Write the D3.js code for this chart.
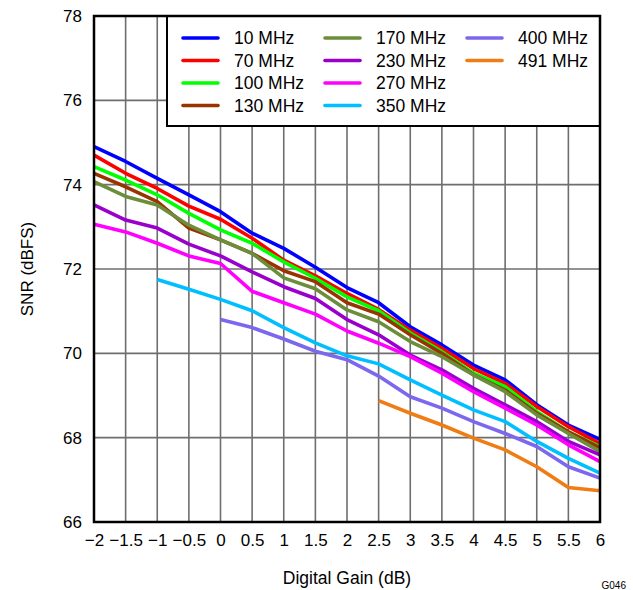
<!DOCTYPE html>
<html>
<head>
<meta charset="utf-8">
<script src="https://cdn.jsdelivr.net/npm/d3@7"></script>
<style>
  html, body { margin: 0; padding: 0; background: #fff; }
  svg { display: block; font-family: "Liberation Sans", Arial, sans-serif; }
</style>
</head>
<body>
<svg id="chart" width="633" height="590"></svg>
<script>
const gains = [-2, -1.5, -1, -0.5, 0, 0.5, 1, 1.5, 2, 2.5, 3, 3.5, 4, 4.5, 5, 5.5, 6];
const xTickLabels = ["−2", "−1.5", "−1", "−0.5", "0", "0.5", "1", "1.5", "2", "2.5", "3", "3.5", "4", "4.5", "5", "5.5", "6"];
const yTicks = [66, 68, 70, 72, 74, 76, 78];

const seriesNames = ["10 MHz", "70 MHz", "100 MHz", "130 MHz", "170 MHz", "230 MHz", "270 MHz", "350 MHz", "400 MHz", "491 MHz"];
const seriesColors = ["#0000ff", "#ff0000", "#00ff00", "#993300", "#6b8e3a", "#9900cc", "#ff00ff", "#00bfff", "#7b68ee", "#f07c14"];

const snr10  = [74.90, 74.55, 74.15, 73.76, 73.36, 72.85, 72.49, 72.04, 71.56, 71.20, 70.63, 70.20, 69.72, 69.37, 68.78, 68.30, 67.96];
const snr70  = [74.70, 74.27, 73.91, 73.49, 73.18, 72.73, 72.21, 71.84, 71.42, 71.04, 70.55, 70.12, 69.64, 69.29, 68.74, 68.26, 67.86];
const snr100 = [74.43, 74.11, 73.76, 73.32, 72.93, 72.61, 72.17, 71.78, 71.34, 71.01, 70.48, 70.04, 69.53, 69.21, 68.62, 68.14, 67.79];
const snr130 = [74.27, 73.95, 73.60, 72.97, 72.69, 72.37, 71.96, 71.70, 71.20, 70.93, 70.44, 70.00, 69.49, 69.13, 68.58, 68.14, 67.76];
const snr170 = [74.07, 73.72, 73.52, 73.04, 72.69, 72.37, 71.79, 71.53, 71.03, 70.75, 70.28, 69.92, 69.49, 69.09, 68.54, 68.10, 67.67];
const snr230 = [73.52, 73.16, 72.97, 72.59, 72.31, 71.93, 71.58, 71.30, 70.80, 70.44, 69.96, 69.61, 69.17, 68.78, 68.38, 67.91, 67.59];
const snr270 = [73.06, 72.88, 72.61, 72.31, 72.13, 71.47, 71.20, 70.93, 70.53, 70.24, 69.92, 69.53, 69.09, 68.70, 68.30, 67.83, 67.43];
const snr350 = [null, null, 71.75, 71.52, 71.28, 71.01, 70.61, 70.25, 69.94, 69.75, 69.37, 69.01, 68.66, 68.38, 67.91, 67.51, 67.16];
const snr400 = [null, null, null, null, 70.80, 70.61, 70.34, 70.05, 69.85, 69.46, 68.97, 68.70, 68.38, 68.10, 67.79, 67.31, 67.04];
const snr491 = [null, null, null, null, null, null, null, null, null, 68.88, 68.58, 68.30, 67.99, 67.71, 67.31, 66.82, 66.74];

const seriesValues = [snr10, snr70, snr100, snr130, snr170, snr230, snr270, snr350, snr400, snr491];

const svg = d3.select("#chart");
const pLeft = 94, pRight = 600, pTop = 16, pBottom = 522;

const x = d3.scaleLinear().domain([-2, 6]).range([pLeft, pRight]);
const y = d3.scaleLinear().domain([66, 78]).range([pBottom, pTop]);

// gridlines
const grid = svg.append("g");
grid.selectAll("line.v").data(gains).enter().append("line")
  .attr("x1", d => x(d)).attr("x2", d => x(d))
  .attr("y1", pTop).attr("y2", pBottom)
  .attr("stroke", "#6e6e6e").attr("stroke-width", 1.6);
grid.selectAll("line.h").data(yTicks).enter().append("line")
  .attr("x1", pLeft).attr("x2", pRight)
  .attr("y1", d => y(d)).attr("y2", d => y(d))
  .attr("stroke", "#6e6e6e").attr("stroke-width", 1.6);

// series lines
const line = d3.line()
  .defined(d => d[1] !== null)
  .x(d => x(d[0])).y(d => y(d[1]));

seriesValues.forEach((vals, i) => {
  svg.append("path")
    .datum(gains.map((g, j) => [g, vals[j]]))
    .attr("d", line)
    .attr("fill", "none")
    .attr("stroke", seriesColors[i])
    .attr("stroke-width", 3.6)
    .attr("stroke-linejoin", "round");
});

// axes (labels only, via d3 axes)
const xAxis = d3.axisBottom(x).tickValues(gains)
  .tickFormat((d, i) => xTickLabels[i]).tickSize(0).tickPadding(12);
const gx = svg.append("g").attr("transform", `translate(0,${pBottom})`).call(xAxis);
gx.select(".domain").remove();
gx.selectAll("text").attr("font-size", 17).attr("fill", "#000")
  .attr("font-family", "'Liberation Sans', Arial, sans-serif");

const yAxis = d3.axisLeft(y).tickValues(yTicks).tickFormat(d3.format("d"))
  .tickSize(0).tickPadding(12);
const gy = svg.append("g").attr("transform", `translate(${pLeft},0)`).call(yAxis);
gy.select(".domain").remove();
gy.selectAll("text").attr("font-size", 17).attr("fill", "#000")
  .attr("font-family", "'Liberation Sans', Arial, sans-serif");

// legend
const legend = svg.append("g");
legend.append("rect")
  .attr("x", 167).attr("y", pTop).attr("width", pRight - 167).attr("height", 110)
  .attr("fill", "#fff").attr("stroke", "#000").attr("stroke-width", 2);
const colX = [183, 325, 467];
const rowY = [38, 60.5, 83, 105.5];
seriesNames.forEach((name, i) => {
  const col = Math.floor(i / 4), row = i % 4;
  const lx = colX[col], ly = rowY[row];
  legend.append("line")
    .attr("x1", lx).attr("x2", lx + 35).attr("y1", ly).attr("y2", ly)
    .attr("stroke", seriesColors[i]).attr("stroke-width", 3.6)
    .attr("stroke-linecap", "round");
  legend.append("text")
    .attr("x", lx + 51).attr("y", ly).attr("dy", "0.36em")
    .attr("font-size", 17.5).attr("fill", "#000")
    .text(name);
});

// frame
svg.append("rect")
  .attr("x", pLeft).attr("y", pTop).attr("width", pRight - pLeft).attr("height", pBottom - pTop)
  .attr("fill", "none").attr("stroke", "#000").attr("stroke-width", 2.5);

// axis titles
svg.append("text")
  .attr("x", (pLeft + pRight) / 2).attr("y", 584)
  .attr("text-anchor", "middle").attr("font-size", 17.5).attr("fill", "#000")
  .text("Digital Gain (dB)");
svg.append("text")
  .attr("transform", `translate(33,${(pTop + pBottom) / 2}) rotate(-90)`)
  .attr("text-anchor", "middle").attr("font-size", 17).attr("fill", "#000")
  .text("SNR (dBFS)");
svg.append("text")
  .attr("x", 626).attr("y", 589)
  .attr("text-anchor", "end").attr("font-size", 10).attr("fill", "#000")
  .text("G046");
</script>
</body>
</html>
